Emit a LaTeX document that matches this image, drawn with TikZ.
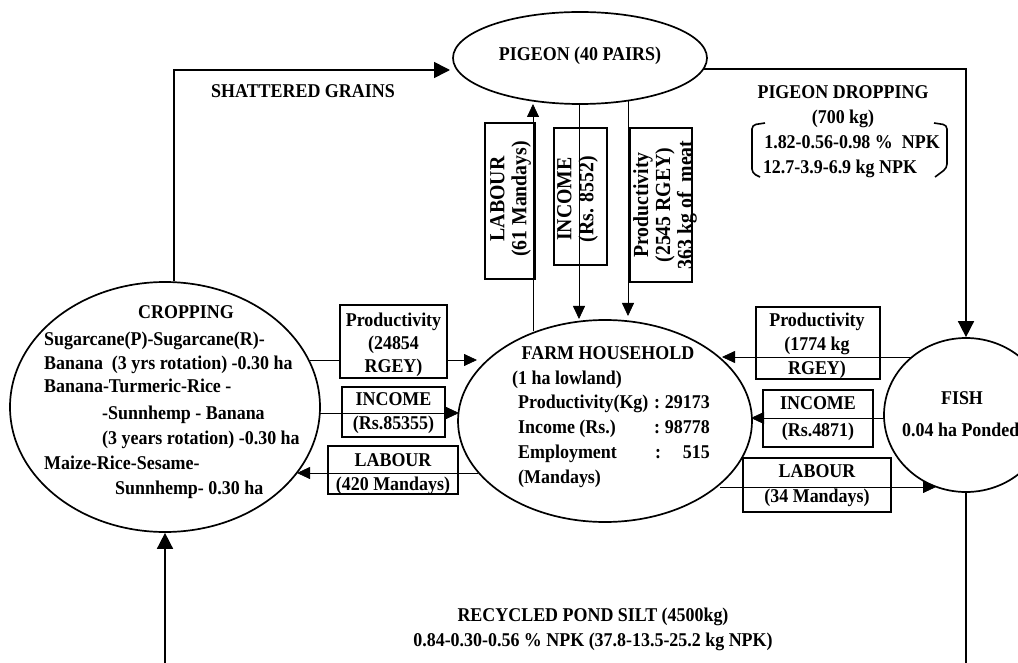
\documentclass[tikz,border=0pt]{standalone}
\usepackage{fontspec}
\setmainfont{Liberation Serif}[FakeStretch=0.92]
\usetikzlibrary{shapes.geometric,arrows.meta}
\begin{document}
\begin{tikzpicture}[x=1pt,y=-1pt,
 ell/.style={draw,ellipse,line width=1.7pt,inner sep=0pt},
 box/.style={draw,rectangle,line width=1.6pt,inner sep=0pt},
 txt/.style={inner sep=0pt,font=\fontsize{19.5}{24}\selectfont\bfseries,anchor=base},
 ltxt/.style={inner sep=0pt,font=\fontsize{19.5}{24}\selectfont\bfseries,anchor=base west},
 rtxt/.style={inner sep=0pt,font=\fontsize{19.5}{24}\selectfont\bfseries,anchor=base east},
 btxt/.style={inner sep=0pt,font=\fontsize{19.5}{24}\selectfont\bfseries,align=center},
 vtxt/.style={inner sep=0pt,font=\fontsize{21.5}{22}\selectfont\bfseries,align=center,rotate=90},
 bigarr/.style={line width=1.6pt,-{Triangle[length=16pt,width=16pt]}},
 bigline/.style={line width=1.6pt},
 smallarr/.style={line width=0.8pt,-{Triangle[length=13pt,width=12pt]}},
 smallline/.style={line width=0.8pt},
]
\fill[white] (0,0) rectangle (1018,663);
\useasboundingbox (0,0) rectangle (1018,663);
\clip (0,0) rectangle (1018,663);

% main ellipses
\node[ell,minimum width=254pt,minimum height=92pt] (pigeon) at (580,58) {};
\node[ell,minimum width=310pt,minimum height=250pt] (crop) at (165,407) {};
\node[ell,minimum width=294pt,minimum height=202pt] (farm) at (605,421) {};
\node[ell,minimum width=164pt,minimum height=154pt] (fish) at (966,415) {};

% texts in ellipses
\node[txt] (tpig) at (580,61) {PIGEON (40 PAIRS)};
\node[txt] (tc0) at (186,319) {CROPPING};
\node[ltxt] (tc1) at (44,345) {Sugarcane(P)-Sugarcane(R)-};
\node[ltxt] (tc2) at (44,369) {Banana\ \ (3 yrs rotation) -0.30 ha};
\node[ltxt] (tc3) at (44,392) {Banana-Turmeric-Rice -};
\node[ltxt] (tc4) at (102,419) {-Sunnhemp - Banana};
\node[ltxt] (tc5) at (102,444) {(3 years rotation) -0.30 ha};
\node[ltxt] (tc6) at (44,469) {Maize-Rice-Sesame-};
\node[ltxt] (tc7) at (115,494) {Sunnhemp- 0.30 ha};

\node[txt] (tf0) at (608,359) {FARM HOUSEHOLD};
\node[ltxt] (tf1) at (512,384) {(1 ha lowland)};
\node[ltxt] (tf2) at (518,408) {Productivity(Kg)};
\node[ltxt] (tf3) at (518,433) {Income (Rs.)};
\node[ltxt] (tf4) at (518,458) {Employment};
\node[ltxt] (tf5) at (518,483) {(Mandays)};
\node[txt] (tk2) at (657,408) {:};
\node[txt] (tk3) at (657,433) {:};
\node[txt] (tk4) at (658,458) {:};
\node[rtxt] (tn2) at (710,408) {29173};
\node[rtxt] (tn3) at (710,433) {98778};
\node[rtxt] (tn4) at (710,458) {515};

\node[txt] (tfi1) at (962,404) {FISH};
\node[ltxt] (tfi2) at (902,436) {0.04 ha Ponded};

% free texts
\node[txt] (tsg) at (303,98) {SHATTERED GRAINS};
\node[txt] (tpd1) at (843,99) {PIGEON DROPPING};
\node[txt] (tpd2) at (843,124) {(700 kg)};
\node[txt] (tpd3) at (852,149) {1.82-0.56-0.98 \%\ \ NPK};
\node[txt] (tpd4) at (840,174) {12.7-3.9-6.9 kg NPK};
\node[txt] (trs1) at (593,621) {RECYCLED POND SILT (4500kg)};
\node[txt] (trs2) at (593,646) {0.84-0.30-0.56 \% NPK (37.8-13.5-25.2 kg NPK)};

% brackets
\draw[line width=1.6pt,rounded corners=4pt] (765,123) -- (752,125) -- (752,173) -- (760,177);
\draw[line width=1.6pt,rounded corners=4pt] (934,123) -- (947,125) -- (947,168) -- (935,177);

% boxes
\node[box,minimum width=107pt,minimum height=73pt] (bPL) at (393.5,341.5) {};
\node[box,minimum width=103pt,minimum height=50pt] (bIL) at (393.5,412) {};
\node[box,minimum width=130pt,minimum height=48pt] (bLL) at (393,470) {};
\node[box,minimum width=124pt,minimum height=72pt] (bPR) at (818,343) {};
\node[box,minimum width=110pt,minimum height=57pt] (bIR) at (818,418.5) {};
\node[box,minimum width=148pt,minimum height=54pt] (bLR) at (817,485) {};
\node[box,minimum width=50pt,minimum height=156pt] (bLV) at (510,201) {};
\node[box,minimum width=53pt,minimum height=137pt] (bIV) at (580.5,196.5) {};
\node[box,minimum width=62pt,minimum height=154pt] (bPV) at (661,205) {};

% box texts
\node[btxt,font=\fontsize{19.5}{23}\selectfont\bfseries] (xPL) at (393.5,345) {Productivity\\(24854\\RGEY)};
\node[btxt] (xIL) at (393.5,413.5) {INCOME\\(Rs.85355)};
\node[btxt] (xLL) at (393,474) {LABOUR\\(420 Mandays)};
\node[btxt,font=\fontsize{19.5}{24}\selectfont\bfseries] (xPR) at (817,346) {Productivity\\(1774 kg\\RGEY)};
\node[btxt,font=\fontsize{19.5}{27}\selectfont\bfseries] (xIR) at (818,418.5) {INCOME\\(Rs.4871)};
\node[btxt,font=\fontsize{19.5}{25}\selectfont\bfseries] (xLR) at (817,485.5) {LABOUR\\(34 Mandays)};
\node[vtxt] (xLV) at (510.5,199) {LABOUR\\(61 Mandays)};
\node[vtxt] (xIV) at (577.5,199) {INCOME\\(Rs. 8552)};
\node[vtxt] (xPV) at (665,205) {Productivity\\(2545 RGEY)\\363 kg of\ \ meat};

% connector end points
\coordinate (pigL) at (450,70);
\coordinate (fishout) at (966,670);
\coordinate (cropin) at (165,670);
\coordinate (lv1) at (533,331);
\coordinate (lv2) at (533,104);
\coordinate (iv1) at (579,103);
\coordinate (iv2) at (579,319);
\coordinate (pv1) at (628,101);
\coordinate (pv2) at (628,316);
\coordinate (pl1) at (310,360);
\coordinate (pl2) at (477,360);
\coordinate (il1) at (320,413);
\coordinate (il2) at (459,413);
\coordinate (ll1) at (478,473);
\coordinate (ll2) at (297,473);
\coordinate (pr1) at (912,357);
\coordinate (pr2) at (722,357);
\coordinate (ir1) at (884,418);
\coordinate (ir2) at (751,418);
\coordinate (lr1) at (720,487);
\coordinate (lr2) at (936,487);

% big loop connectors
\draw[bigarr] (crop.86) |- (pigL);
\draw[bigarr] (pigeon.-5) -| (fish.north);
\draw[bigline] (fish.south) -- (fishout);
\draw[bigarr] (cropin) -- (crop.south);

% pigeon <-> farm
\draw[smallarr] (lv1) -- (lv2);
\draw[smallarr] (iv1) -- (iv2);
\draw[smallarr] (pv1) -- (pv2);

% crop <-> farm
\draw[smallline] (pl1) -- (bPL.west |- pl1);
\draw[smallarr] (bPL.east |- pl1) -- (pl2);
\draw[smallarr] (il1) -- (il2);
\draw[smallarr] (ll1) -- (ll2);

% fish <-> farm
\draw[smallarr] (pr1) -- (pr2);
\draw[smallarr] (ir1) -- (ir2);
\draw[smallarr] (lr1) -- (lr2);
\end{tikzpicture}
\end{document}
